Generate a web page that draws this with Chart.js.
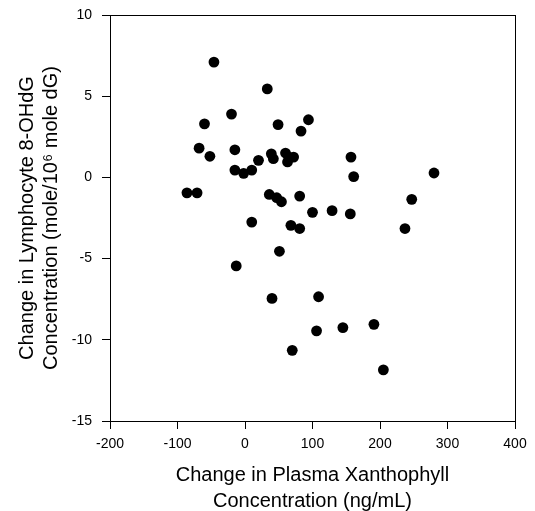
<!DOCTYPE html>
<html>
<head>
<meta charset="utf-8">
<script src="https://cdn.jsdelivr.net/npm/chart.js@4.4.1/dist/chart.umd.min.js"></script>
<style>
  body { margin: 0; background: #fff; }
  canvas { display: block; }
</style>
</head>
<body>
<canvas id="chart" width="535" height="511"></canvas>
<script>
// change in plasma xanthophyll (ng/mL)
var xanthophyll = [
    -46, 33, -20, -60, 49, 94, 83, -68, -52, -15,
    20, 39, 42, 60, 65, 63, 72, -15, -2, 10,
    -86, -71, 36, 47, 54, 81, 100, 10, 68, 81,
    51, -13, 40, 109, 106, 70, 157, 161, 280, 129,
    156, 247, 237, 145, 191, 205
];
// change in lymphocyte 8-OHdG (mole/10^6 mole dG)
var ohdg = [
    7.1, 5.45, 3.9, 3.3, 3.25, 3.55, 2.85, 1.8, 1.3, 1.7,
    1.05, 1.45, 1.15, 1.5, 1.25, 0.95, 1.25, 0.45, 0.25, 0.45,
    -0.95, -0.95, -1.05, -1.25, -1.5, -1.15, -2.15, -2.75, -2.95, -3.15,
    -4.55, -5.45, -7.45, -7.35, -9.45, -10.65, 1.25, 0.05, 0.27, -2.05,
    -2.25, -1.35, -3.15, -9.25, -9.05, -11.85
];
var xTicks = [-200, -100, 0, 100, 200, 300, 400];
var yTicks = [-15, -10, -5, 0, 5, 10];

var points = [];
for (var i = 0; i < xanthophyll.length; i++) {
    points.push({x: xanthophyll[i], y: ohdg[i]});
}

// box round the plot area (top and right sides)
var frame = {
    id: "frame",
    afterDatasetsDraw: function (chart) {
        var a = chart.chartArea;
        var ctx = chart.ctx;
        ctx.save();
        ctx.strokeStyle = "#000";
        ctx.lineWidth = 1;
        ctx.strokeRect(a.left + 0.5, a.top + 0.5, a.right - a.left, a.bottom - a.top);
        ctx.restore();
    }
};

var family = "Liberation Sans, Arial, sans-serif";
var tickFont = {family: family, size: 14};

new Chart(document.getElementById("chart"), {
    type: "scatter",
    data: {
        datasets: [{
            data: points,
            backgroundColor: "#000",
            borderWidth: 0,
            pointRadius: 5.4,
            pointHoverRadius: 5.4
        }]
    },
    options: {
        responsive: false,
        animation: false,
        layout: {padding: {top: 15, right: 20, left: 0, bottom: 0}},
        plugins: {legend: {display: false}, tooltip: {enabled: false}},
        scales: {
            x: {
                type: "linear",
                min: xTicks[0],
                max: xTicks[xTicks.length - 1],
                afterFit: function (s) { s.height = 90; },
                afterBuildTicks: function (s) { s.ticks = xTicks.map(function (v) { return {value: v}; }); },
                grid: {drawOnChartArea: false, color: "#000", tickLength: 8, tickColor: "#000"},
                border: {color: "#000"},
                ticks: {color: "#000", font: tickFont, padding: 7, maxRotation: 0},
                title: {
                    display: true,
                    text: ["Change in Plasma Xanthophyll", "Concentration (ng/mL)"],
                    color: "#000",
                    font: {family: family, size: 20, lineHeight: 1.3},
                    padding: {top: 0, bottom: -3}
                }
            },
            y: {
                type: "linear",
                min: yTicks[0],
                max: yTicks[yTicks.length - 1],
                afterFit: function (s) {
                    s.width = 110;
                    s.paddingTop = 0;
                    s.paddingBottom = 0;
                },
                afterBuildTicks: function (s) { s.ticks = yTicks.map(function (v) { return {value: v}; }); },
                grid: {drawOnChartArea: false, color: "#000", tickLength: 8, tickColor: "#000"},
                border: {color: "#000"},
                ticks: {color: "#000", font: tickFont, padding: 10},
                title: {
                    display: true,
                    text: ["Change in Lymphocyte 8-OHdG", "Concentration (mole/10\u2076 mole dG)"],
                    color: "#000",
                    font: {family: family, size: 20, lineHeight: 1.2},
                    padding: {top: 15, bottom: 0}
                }
            }
        }
    },
    plugins: [frame]
});
</script>
</body>
</html>
